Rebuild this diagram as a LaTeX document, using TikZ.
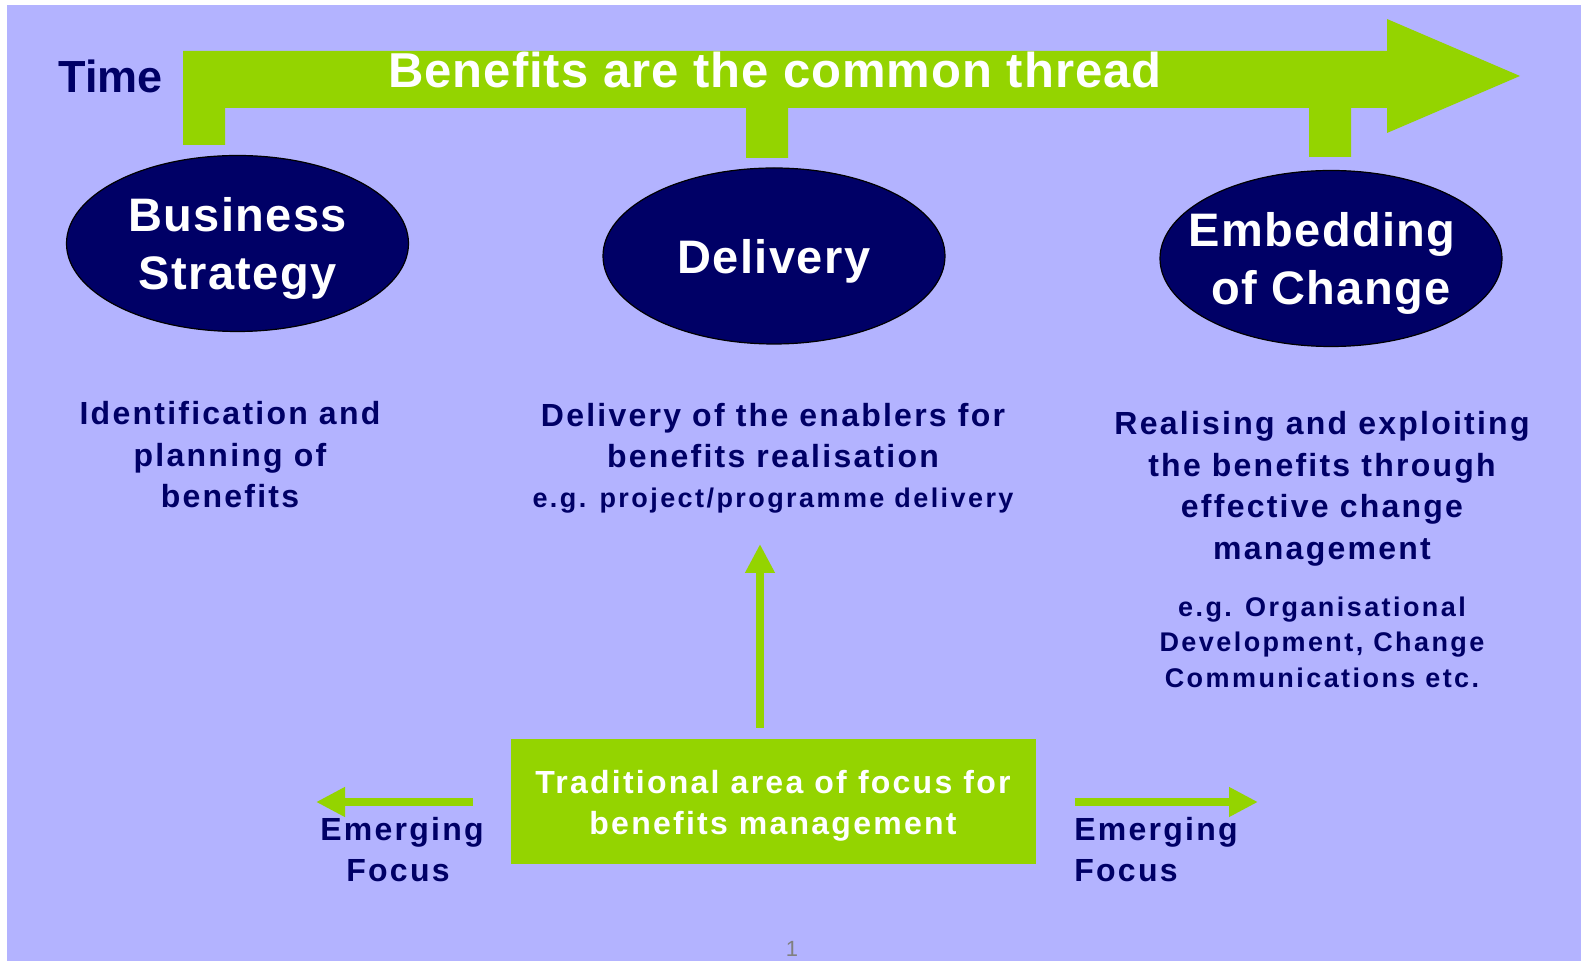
\documentclass[tikz,border=0pt]{standalone}
\usepackage{fontspec}
\setmainfont{Liberation Sans}
\newfontfamily\ellfont[LetterSpace=3]{Liberation Sans}
\newfontfamily\bodyfont[LetterSpace=7]{Liberation Sans}
\newfontfamily\egfont[LetterSpace=9]{Liberation Sans}
\newfontfamily\titlefont[LetterSpace=2]{Liberation Sans}
\usetikzlibrary{shapes.geometric,arrows.meta}
\definecolor{lav}{RGB}{179,179,255}
\definecolor{navy}{RGB}{0,0,102}
\definecolor{lime}{RGB}{148,212,0}
\definecolor{pgnum}{RGB}{128,128,128}
\begin{document}
\begin{tikzpicture}[x=0.5pt,y=-0.5pt,
  phase/.style={ellipse, draw=black, line width=0.6pt, fill=navy, text=white,
    minimum width=171pt, minimum height=88pt, inner sep=-14pt, align=center,
    text depth=0pt,
    font=\ellfont\bfseries\fontsize{23.5}{29}\selectfont},
  bodyline/.style={anchor=base, text=navy, inner sep=0pt,
    font=\bodyfont\bfseries\fontsize{16}{20}\selectfont},
  egline/.style={anchor=base, text=navy, inner sep=0pt,
    font=\egfont\bfseries\fontsize{13.5}{17}\selectfont},
  boxline/.style={anchor=base, text=white, inner sep=0pt,
    font=\bodyfont\bfseries\fontsize{16}{20}\selectfont},
  flow/.style={draw=lime, line width=4pt, -{Triangle[width=14pt,length=14.5pt]}},
]
\useasboundingbox (0,0) rectangle (1581,961);
\fill[white] (0,0) rectangle (1581,961);
\fill[lav] (7,5) rectangle (1581,961);

% common thread arrow
\fill[lime] (183,145) -- (183,51) -- (1387,51) -- (1387,19) -- (1520,76)
  -- (1387,133) -- (1387,108) -- (1351,108) -- (1351,157) -- (1309,157)
  -- (1309,108) -- (788,108) -- (788,158) -- (746,158) -- (746,108)
  -- (225,108) -- (225,145) -- cycle;
\node[anchor=base, text=white, inner sep=0pt,
  font=\titlefont\bfseries\fontsize{24.5}{29}\selectfont] (title) at (775,88)
  {Benefits are the common thread};
\node[anchor=base west, text=navy, inner sep=0pt,
  font=\bfseries\fontsize{22.5}{27}\selectfont] (time) at (58,93) {Time};

% phases
\node[phase] (bs) at (237.5,243.5) {Business\\Strategy};
\node[phase] (del) at (774,256) {Delivery};
\node[phase, text depth=-3pt] (emb) at (1331,258.5) {\kern-9pt Embedding\\of Change};

% descriptions
\node[bodyline] (bs1) at (230,425) {Identification and};
\node[bodyline] (bs2) at (230,466.5) {planning of};
\node[bodyline] (bs3) at (230,508) {benefits};

\node[bodyline] (d1) at (773,427) {Delivery of the enablers for};
\node[bodyline] (d2) at (773,468) {benefits realisation};
\node[egline] (d3) at (773,508) {e.g. project/programme delivery};

\node[bodyline] (e1) at (1322,435) {Realising and exploiting};
\node[bodyline] (e2) at (1322,477) {the benefits through};
\node[bodyline] (e3) at (1322,518) {effective change};
\node[bodyline] (e4) at (1322,560) {management};
\node[egline] (e5) at (1322,617) {e.g. Organisational};
\node[egline] (e6) at (1322,652) {Development, Change};
\node[egline] (e7) at (1322,688) {Communications etc.};

% traditional focus
\node[fill=lime, minimum width=262.5pt, minimum height=62.5pt, inner sep=0pt] (box) at (773.5,801.5) {};
\node[boxline] (b1) at (773,794) {Traditional area of focus for};
\node[boxline] (b2) at (773,835) {benefits management};

\coordinate (vtail) at (760,728);
\coordinate (vtip) at (760,544);
\draw[flow] (vtail) -- (vtip);

\coordinate (ltail) at (473,802);
\coordinate (ltip) at (316,802);
\draw[flow] (ltail) -- (ltip);
\node[bodyline] (l1) at (402,841) {Emerging};
\node[bodyline] (l2) at (398,882) {Focus};

\coordinate (rtail) at (1075,802);
\coordinate (rtip) at (1258,802);
\draw[flow] (rtail) -- (rtip);
\node[bodyline, anchor=base west] (r1) at (1074,841) {Emerging};
\node[bodyline, anchor=base west] (r2) at (1074,882) {Focus};

\node[anchor=base, text=pgnum, inner sep=0pt, font=\fontsize{11}{13}\selectfont] (pg) at (792,957) {1};
\end{tikzpicture}
\end{document}
